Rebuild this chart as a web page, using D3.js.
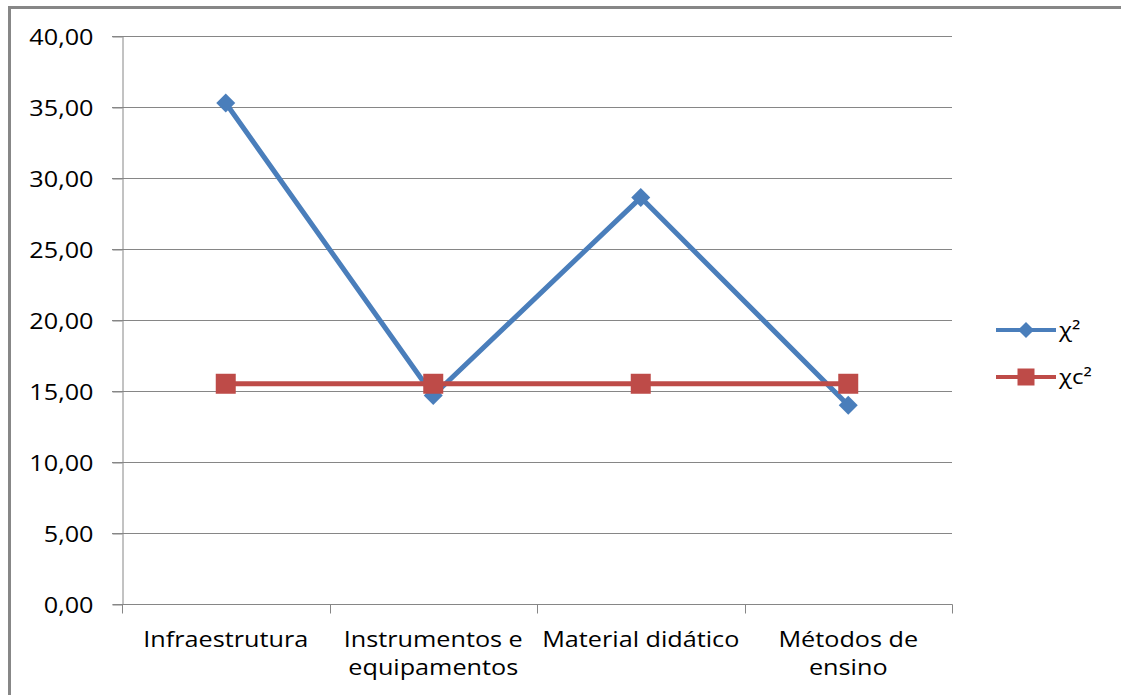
<!DOCTYPE html>
<html>
<head>
<meta charset="utf-8">
<script src="https://cdn.jsdelivr.net/npm/d3@7"></script>
<style>
  html, body { margin: 0; padding: 0; background: #fff; }
  svg { display: block; }
  text { font-family: "Open Sans", "DejaVu Sans", sans-serif; fill: #000; }
</style>
</head>
<body>
<svg id="chart" width="1121" height="695"></svg>
<script>
// Categories (each may wrap onto two lines)
const categories = ["Infraestrutura", "Instrumentos e equipamentos", "Material didático", "Métodos de ensino"];
const categoryLines = [["Infraestrutura"], ["Instrumentos e", "equipamentos"], ["Material didático"], ["Métodos de", "ensino"]];

// Series values
const chiSquare = [35.28, 14.68, 28.62, 14.00];
const chiCritical = [15.51, 15.51, 15.51, 15.51];

// Axis ticks
const yTicks = [0, 5, 10, 15, 20, 25, 30, 35, 40];

const seriesNames = ["χ²", "χc²"];

const svg = d3.select("#chart");
const W = 1121, H = 695;
const plot = { left: 122, right: 952, top: 36, bottom: 604 };
const gridColor = "#868686";
const blue = "#4a7ebb", red = "#be4b48";
const stretch = 1.2;

// Outer chart frame (left and top edges visible)
svg.append("path")
  .attr("d", `M9.5,${H} V7.5 H${W}`)
  .attr("fill", "none")
  .attr("stroke", "#878787")
  .attr("stroke-width", 3);

const x = d3.scaleBand().domain(categories).range([plot.left, plot.right]).padding(0);
const y = d3.scaleLinear().domain([0, 40]).range([plot.bottom, plot.top]);
const cx = c => x(c) + x.bandwidth() / 2;

const fmt = d3.formatLocale({ decimal: ",", thousands: ".", grouping: [3], currency: ["", ""] }).format(".2f");

// Horizontal gridlines
svg.append("g")
  .selectAll("line")
  .data(yTicks.filter(t => t > 0))
  .join("line")
  .attr("x1", plot.left - 10).attr("x2", plot.right)
  .attr("y1", d => Math.round(y(d)) + 0.5).attr("y2", d => Math.round(y(d)) + 0.5)
  .attr("stroke", gridColor).attr("stroke-width", 1);

// Y axis
const yAxis = svg.append("g")
  .attr("transform", `translate(${plot.left + 0.5},0.5)`)
  .call(d3.axisLeft(y).tickValues(yTicks).tickFormat(fmt).tickSize(10).tickPadding(0).tickSizeOuter(0));
yAxis.select(".domain").attr("stroke", gridColor);
yAxis.selectAll(".tick line").attr("stroke", gridColor);
yAxis.selectAll(".tick text")
  .attr("x", -29 / stretch)
  .attr("dy", "0.36em")
  .attr("transform", `scale(${stretch},1)`)
  .attr("font-size", 21)
  .attr("font-family", "\"Open Sans\", sans-serif")
  .attr("fill", "#000");

// X axis baseline and boundary ticks
const xAxisG = svg.append("g").attr("transform", `translate(0.5,${plot.bottom + 0.5})`);
xAxisG.append("line")
  .attr("x1", plot.left - 10).attr("x2", plot.right)
  .attr("stroke", gridColor);
const boundaries = categories.map(c => x(c)).concat([x(categories[categories.length - 1]) + x.bandwidth()]);
xAxisG.selectAll("line.tk")
  .data(boundaries)
  .join("line")
  .attr("class", "tk")
  .attr("x1", d => Math.round(d)).attr("x2", d => Math.round(d))
  .attr("y1", 0).attr("y2", 9)
  .attr("stroke", gridColor);

// Category labels
const labels = svg.append("g");
categories.forEach((c, i) => {
  const t = labels.append("text")
    .attr("text-anchor", "middle")
    .attr("font-size", 21)
    .attr("transform", `translate(${cx(c)},647) scale(${stretch},1)`);
  categoryLines[i].forEach((ln, j) => {
    t.append("tspan").attr("x", 0).attr("y", j * 28).text(ln);
  });
});

// Series lines
const line = d3.line().x((d, i) => cx(categories[i])).y(d => y(d));

svg.append("path").datum(chiSquare)
  .attr("d", line).attr("fill", "none")
  .attr("stroke", blue).attr("stroke-width", 5).attr("stroke-linejoin", "round");

svg.append("path").datum(chiCritical)
  .attr("d", line).attr("fill", "none")
  .attr("stroke", red).attr("stroke-width", 5);

// Markers
const diamond = d3.symbol(d3.symbolSquare, 180);
const square = d3.symbol(d3.symbolSquare, 400);

svg.append("g").selectAll("path")
  .data(chiSquare)
  .join("path")
  .attr("d", diamond)
  .attr("transform", (d, i) => `translate(${cx(categories[i])},${y(d)}) rotate(45)`)
  .attr("fill", blue);

svg.append("g").selectAll("path")
  .data(chiCritical)
  .join("path")
  .attr("d", square)
  .attr("transform", (d, i) => `translate(${cx(categories[i])},${y(d)})`)
  .attr("fill", red);

// Legend
const legend = svg.append("g");
const legendItems = [
  { name: seriesNames[0], color: blue, sym: d3.symbol(d3.symbolSquare, 130), rot: 45, y: 330 },
  { name: seriesNames[1], color: red, sym: d3.symbol(d3.symbolSquare, 289), rot: 0, y: 377 }
];
legendItems.forEach(it => {
  legend.append("line")
    .attr("x1", 996).attr("x2", 1056)
    .attr("y1", it.y).attr("y2", it.y)
    .attr("stroke", it.color).attr("stroke-width", 4);
  legend.append("path")
    .attr("d", it.sym)
    .attr("transform", `translate(1026,${it.y}) rotate(${it.rot})`)
    .attr("fill", it.color);
  legend.append("text")
    .attr("transform", `translate(1059,${it.y + 7}) scale(${stretch},1)`)
    .attr("font-size", 20)
    .text(it.name);
});
</script>
</body>
</html>
